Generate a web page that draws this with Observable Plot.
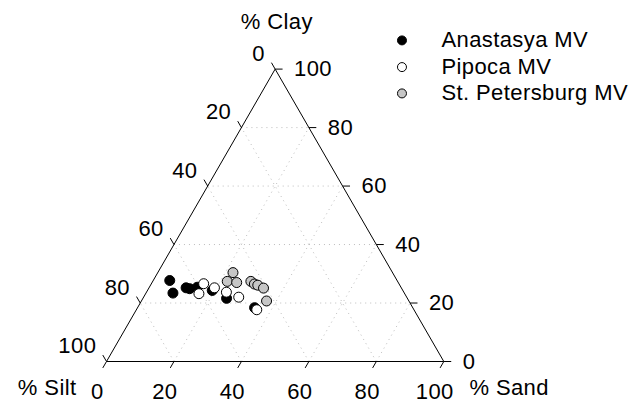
<!DOCTYPE html>
<html>
<head>
<meta charset="utf-8">
<script src="https://cdn.jsdelivr.net/npm/d3@7"></script>
<script src="https://cdn.jsdelivr.net/npm/@observablehq/plot@0.6"></script>
<style>
  body { margin: 0; background: #fff; }
</style>
</head>
<body>
<div id="chart"></div>
<script>
// Soil texture (% sand, % silt, % clay) of mud volcano samples
const sites = ["Anastasya MV", "Pipoca MV", "St. Petersburg MV"];
const siteFill = ["#000000", "#ffffff", "#c6c6c6"];

const anastasyaSand = [4.9, 8.0, 11.0, 12.2, 14.2, 19.2, 24.8, 34.7];
const anastasyaSilt = [67.4, 68.6, 63.8, 62.9, 60.4, 56.5, 53.6, 46.9];
const anastasyaClay = [27.7, 23.4, 25.2, 24.9, 25.4, 24.3, 21.6, 18.4];

const pipocaSand = [15.5, 15.8, 19.4, 23.7, 28.2, 35.7];
const pipocaSilt = [57.9, 61.0, 55.4, 52.6, 49.8, 46.6];
const pipocaClay = [26.6, 23.2, 25.2, 23.7, 22.0, 17.7];

const petersburgSand = [22.3, 22.1, 25.1, 29.1, 30.6, 31.8, 34.0, 37.1];
const petersburgSilt = [47.3, 50.5, 47.9, 43.5, 42.9, 42.1, 40.9, 42.2];
const petersburgClay = [30.4, 27.4, 27.0, 27.4, 26.5, 26.1, 25.1, 20.7];

const tickValues = [0, 20, 40, 60, 80, 100];
const gridLevels = [20, 40, 60, 80];
const titleClay = "% Clay";
const titleSilt = "% Silt";
const titleSand = "% Sand";

// Ternary -> cartesian: sand to the right, clay up (silt is the remainder)
const H = Math.sqrt(3) / 2;
const tx = (sand, clay) => sand + clay / 2;
const ty = (clay) => clay * H;

const samples = [
  [anastasyaSand, anastasyaSilt, anastasyaClay],
  [pipocaSand, pipocaSilt, pipocaClay],
  [petersburgSand, petersburgSilt, petersburgClay]
].flatMap(([sa, si, cl], k) =>
  sa.map((s, i) => ({site: sites[k], sand: s, silt: si[i], clay: cl[i], fill: siteFill[k]}))
);

// Dotted grid: constant clay, constant sand, constant silt
const grid = gridLevels.flatMap(v => [
  {x1: tx(0, v), y1: ty(v), x2: tx(100 - v, v), y2: ty(v)},
  {x1: tx(v, 0), y1: ty(0), x2: tx(v, 100 - v), y2: ty(100 - v)},
  {x1: tx(100 - v, 0), y1: ty(0), x2: tx(0, 100 - v), y2: ty(100 - v)}
]);

const frame = [
  {x1: tx(0, 0), y1: ty(0), x2: tx(100, 0), y2: ty(0)},
  {x1: tx(100, 0), y1: ty(0), x2: tx(0, 100), y2: ty(100)},
  {x1: tx(0, 100), y1: ty(100), x2: tx(0, 0), y2: ty(0)}
];

const L = 2.2; // tick length (data units)
const sandTicks = tickValues.map(v => ({x: tx(v, 0), y: ty(0), dx: -0.5 * L, dy: -H * L, label: String(v)}));
const siltTicks = tickValues.map(v => ({x: tx(0, 100 - v), y: ty(100 - v), dx: -0.5 * L, dy: H * L, label: String(v)}));
const clayTicks = tickValues.map(v => ({x: tx(100 - v, v), y: ty(v), dx: L, dy: 0, label: String(v)}));
const allTicks = [...sandTicks, ...siltTicks, ...clayTicks];

const font = "'Liberation Sans', Arial, Helvetica, sans-serif";
const fs = 22;

const legendY = [95.1, 87.2, 79.4];
const legend = sites.map((s, i) => ({site: s, fill: siteFill[i], y: legendY[i]}));

const chart = Plot.plot({
  width: 630,
  height: 404,
  margin: 0,
  style: {fontFamily: font, fontSize: fs + "px", letterSpacing: "0.4px", background: "#fff", overflow: "visible"},
  x: {domain: [0, 100], range: [106, 443.3], axis: null},
  y: {domain: [0, 100 * H], range: [361, 68.6], axis: null},
  marks: [
    Plot.link(grid, {x1: "x1", y1: "y1", x2: "x2", y2: "y2", stroke: "#bdbdbd", strokeWidth: 1, strokeDasharray: "1,4"}),
    Plot.link(frame, {x1: "x1", y1: "y1", x2: "x2", y2: "y2", stroke: "#000", strokeWidth: 1}),
    Plot.link(allTicks, {x1: "x", y1: "y", x2: d => d.x + d.dx, y2: d => d.y + d.dy, stroke: "#000", strokeWidth: 1}),
    Plot.text(sandTicks, {x: d => d.x - 2.7, y: -8.9, text: "label", textAnchor: "middle", lineAnchor: "middle", fontSize: fs}),
    Plot.text(siltTicks, {x: d => d.x - 3.03, y: d => d.y + 4.59, text: "label", textAnchor: "end", lineAnchor: "middle", fontSize: fs}),
    Plot.text(clayTicks, {x: d => d.x + 5.6, y: "y", text: "label", textAnchor: "start", lineAnchor: "middle", fontSize: fs}),
    Plot.text([titleClay], {x: 50.5, y: 100.7, text: d => d, textAnchor: "middle", lineAnchor: "middle", fontSize: fs}),
    Plot.text([titleSilt], {x: -8.9, y: -7.7, text: d => d, textAnchor: "end", lineAnchor: "middle", fontSize: fs}),
    Plot.text([titleSand], {x: 107.6, y: -7.7, text: d => d, textAnchor: "start", lineAnchor: "middle", fontSize: fs}),
    Plot.dot(samples, {x: d => tx(d.sand, d.clay), y: d => ty(d.clay), r: 5, fill: "fill", stroke: "#000", strokeWidth: 1}),
    Plot.dot(legend, {x: 87.6, y: "y", r: 4.5, fill: "fill", stroke: "#000", strokeWidth: 1}),
    Plot.text(legend, {x: 99.3, y: "y", text: "site", textAnchor: "start", lineAnchor: "middle", fontSize: fs})
  ]
});

document.getElementById("chart").append(chart);
</script>
</body>
</html>
